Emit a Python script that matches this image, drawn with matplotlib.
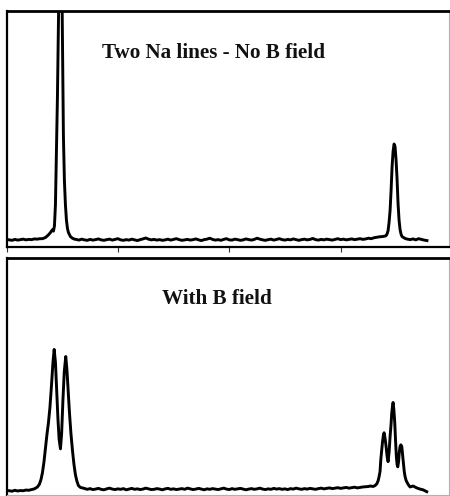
import matplotlib
matplotlib.use("Agg")
import matplotlib.pyplot as plt

# ---------------- data (wavelength in nm, intensity in arbitrary units) ----------------
# Top panel: two Na D lines, no magnetic field
top_left_wl = [588.905, 588.910, 588.915, 588.920, 588.925, 588.930, 588.935, 588.940,
               588.945, 588.950, 588.955, 588.960]
top_left_int = [3.1, 2.9, 3.3, 3.0, 3.2, 3.4, 3.1, 3.3, 3.2, 3.5, 3.4, 3.6]

top_d2_wl = [588.9646, 588.9700, 588.9753, 588.9789, 588.9825, 588.9843, 588.9861, 588.9879,
             588.9897, 588.9915, 588.9933, 588.9951, 588.9969, 588.9987, 589.0004, 589.0022,
             589.0040, 589.0058, 589.0076, 589.0094, 589.0112, 589.0148, 589.0184, 589.0220]
top_d2_int = [3.6, 4.1, 5.2, 6.2, 7.4, 6.8, 9.0, 18, 40, 64, 94, 130, 165, 130, 90, 47,
              28, 18, 11.5, 8.0, 6.2, 4.5, 3.8, 3.4]

top_mid_wl = [589.025, 589.030, 589.035, 589.040, 589.045, 589.050, 589.055, 589.060, 589.065, 589.070,
              589.075, 589.080, 589.085, 589.090, 589.095, 589.100, 589.105, 589.110, 589.115, 589.120,
              589.125, 589.130, 589.135, 589.140, 589.145, 589.150, 589.155, 589.160, 589.165, 589.170,
              589.175, 589.180, 589.185, 589.190, 589.195, 589.200, 589.205, 589.210, 589.215, 589.220,
              589.225, 589.230, 589.235, 589.240, 589.245, 589.250, 589.255, 589.260, 589.265, 589.270,
              589.275, 589.280, 589.285, 589.290, 589.295, 589.300, 589.305, 589.310, 589.315, 589.320,
              589.325, 589.330, 589.335, 589.340, 589.345, 589.350, 589.355, 589.360, 589.365, 589.370,
              589.375, 589.380, 589.385, 589.390, 589.395, 589.400, 589.405, 589.410, 589.415, 589.420,
              589.425, 589.430, 589.435, 589.440, 589.445, 589.450, 589.455, 589.460, 589.465, 589.470,
              589.475, 589.480, 589.485, 589.490, 589.495, 589.500, 589.505, 589.510, 589.515, 589.520,
              589.525, 589.530, 589.535, 589.540, 589.545, 589.550, 589.555, 589.560, 589.565, 589.570,
              589.575]
top_mid_int = [3.3, 3.0, 3.4, 3.1, 2.9, 3.3, 3.0, 3.2, 3.5, 3.1,
               2.9, 3.2, 3.4, 3.0, 3.3, 3.6, 3.1, 2.9, 3.2, 3.0,
               3.4, 3.1, 2.8, 3.2, 3.5, 3.9, 3.4, 3.1, 3.3, 3.0,
               3.2, 2.9, 3.1, 3.4, 3.0, 3.3, 3.6, 3.2, 2.9, 3.1,
               3.3, 3.0, 3.2, 3.5, 3.1, 2.8, 3.2, 3.4, 3.8, 3.3,
               3.0, 3.2, 2.9, 3.3, 3.6, 3.1, 3.0, 3.4, 3.2, 2.9,
               3.1, 3.5, 3.2, 3.0, 3.3, 3.8, 3.4, 3.1, 2.9, 3.2,
               3.4, 3.0, 3.3, 3.6, 3.2, 3.0, 3.3, 3.1, 3.5, 3.2,
               2.9, 3.2, 3.4, 3.1, 3.3, 3.7, 3.2, 3.0, 3.3, 3.1,
               3.4, 3.2, 3.0, 3.3, 3.6, 3.2, 3.4, 3.1, 3.3, 3.5,
               3.2, 3.4, 3.6, 3.3, 3.5, 3.8, 3.6, 4.0, 4.2, 4.4,
               4.5]

top_d1_wl = [589.5798, 589.5816, 589.5834, 589.5852, 589.5870, 589.5888, 589.5906, 589.5924,
             589.5942, 589.5960, 589.5977, 589.5995, 589.6013, 589.6031, 589.6049, 589.6067,
             589.6085, 589.6103, 589.6157]
top_d1_int = [4.7, 4.9, 5.6, 7.0, 10.5, 15.5, 24, 34, 40.5, 43.6, 42.5, 37, 29, 18.5,
              11.5, 7.5, 5.5, 4.5, 3.7]

top_right_wl = [589.620, 589.625, 589.630, 589.635, 589.640, 589.645, 589.650, 589.655]
top_right_int = [3.4, 3.2, 3.5, 3.1, 3.6, 3.3, 3.0, 2.8]

# Bottom panel: with magnetic field (Zeeman splitting)
bot_left_wl = [588.905, 588.910, 588.915, 588.920, 588.925, 588.930, 588.935, 588.940, 588.945]
bot_left_int = [1.8, 1.6, 2.0, 1.7, 1.9, 1.8, 2.1, 2.0, 2.3]

bot_d2_wl = [588.9502, 588.9556, 588.9592, 588.9619, 588.9646, 588.9673, 588.9700, 588.9726,
             588.9753, 588.9780, 588.9807, 588.9834, 588.9856, 588.9879, 588.9902, 588.9924,
             588.9945, 588.9969, 588.9990, 589.0013, 589.0037, 589.0064, 589.0085, 589.0107,
             589.0130, 589.0157, 589.0184, 589.0211, 589.0238, 589.0265, 589.0291, 589.0327,
             589.0381]
bot_d2_int = [2.6, 3.4, 4.6, 6.5, 9.5, 14, 20, 25.5, 30.5, 37, 46, 56, 61.5, 56, 44, 32,
              23.5, 19.5, 26, 40, 52, 58.5, 53, 44, 35, 26, 19, 13, 8.5, 5.8, 4.0, 3.2, 2.9]

bot_mid_wl = [589.045, 589.050, 589.055, 589.060, 589.065, 589.070, 589.075, 589.080, 589.085, 589.090,
              589.095, 589.100, 589.105, 589.110, 589.115, 589.120, 589.125, 589.130, 589.135, 589.140,
              589.145, 589.150, 589.155, 589.160, 589.165, 589.170, 589.175, 589.180, 589.185, 589.190,
              589.195, 589.200, 589.205, 589.210, 589.215, 589.220, 589.225, 589.230, 589.235, 589.240,
              589.245, 589.250, 589.255, 589.260, 589.265, 589.270, 589.275, 589.280, 589.285, 589.290,
              589.295, 589.300, 589.305, 589.310, 589.315, 589.320, 589.325, 589.330, 589.335, 589.340,
              589.345, 589.350, 589.355, 589.360, 589.365, 589.370, 589.375, 589.380, 589.385, 589.390,
              589.395, 589.400, 589.405, 589.410, 589.415, 589.420, 589.425, 589.430, 589.435, 589.440,
              589.445, 589.450, 589.455, 589.460, 589.465, 589.470, 589.475, 589.480, 589.485, 589.490,
              589.495, 589.500, 589.505, 589.510, 589.515, 589.520, 589.525, 589.530, 589.535, 589.540,
              589.545, 589.550]
bot_mid_int = [2.4, 2.7, 2.3, 2.5, 2.8, 2.4, 2.2, 2.6, 2.9, 2.5,
               2.3, 2.6, 2.4, 2.7, 2.2, 2.5, 2.8, 2.4, 2.6, 2.3,
               2.5, 2.9, 2.6, 2.3, 2.4, 2.7, 2.5, 2.2, 2.6, 2.8,
               2.4, 2.6, 2.3, 2.5, 2.7, 2.4, 2.9, 2.6, 2.3, 2.5,
               2.8, 2.5, 2.2, 2.6, 2.4, 2.7, 2.5, 2.3, 2.6, 2.9,
               2.5, 2.3, 2.7, 2.4, 2.6, 2.8, 2.5, 2.2, 2.5, 2.7,
               2.4, 2.6, 2.9, 2.5, 2.3, 2.6, 2.4, 2.8, 2.5, 2.7,
               2.4, 2.6, 2.3, 2.7, 2.5, 2.9, 2.6, 2.4, 2.7, 2.5,
               2.8, 2.6, 2.4, 2.7, 2.9, 2.6, 2.8, 3.0, 2.7, 2.9,
               3.1, 2.8, 3.0, 3.2, 2.9, 3.1, 3.3, 3.0, 3.2, 3.4,
               3.5, 3.6]

bot_d1_wl = [589.5529, 589.5583, 589.5619, 589.5649, 589.5673, 589.5691, 589.5708, 589.5721,
             589.5735, 589.5750, 589.5766, 589.5780, 589.5798, 589.5816, 589.5834, 589.5852,
             589.5870, 589.5888, 589.5906, 589.5918, 589.5931, 589.5942, 589.5956, 589.5972,
             589.5986, 589.6001, 589.6013, 589.6026, 589.6040, 589.6053, 589.6067, 589.6081,
             589.6098, 589.6112, 589.6126, 589.6142, 589.6157, 589.6175, 589.6198, 589.6220,
             589.6247, 589.6300, 589.6367, 589.6426, 589.6480, 589.6546]
bot_d1_int = [3.8, 3.6, 4.0, 4.7, 6.0, 7.8, 10, 14.8, 18.5, 22, 25, 26.3, 24, 20.5, 16.5,
              14.1, 18, 24.7, 30, 34.7, 37.5, 39.1, 36, 30.5, 23, 16.2, 13, 11.9, 14, 18,
              20.5, 21.2, 20.5, 17, 13.6, 10, 7.8, 6.2, 5.1, 4.2, 3.4, 3.8, 3.0, 2.5, 2.2, 1.4]

tick_positions = [588.9, 589.1, 589.3, 589.5]
top_title = "Two Na lines - No B field"
bottom_title = "With B field"

top_wl = top_left_wl + top_d2_wl + top_mid_wl + top_d1_wl + top_right_wl
top_int = top_left_int + top_d2_int + top_mid_int + top_d1_int + top_right_int
bot_wl = bot_left_wl + bot_d2_wl + bot_mid_wl + bot_d1_wl
bot_int = bot_left_int + bot_d2_int + bot_mid_int + bot_d1_int

# ---------------- figure ----------------
plt.rcParams['font.family'] = ['Liberation Serif', 'DejaVu Serif']
fig = plt.figure(figsize=(4.5, 4.96), dpi=100)
fig.patch.set_facecolor('white')

left = 6.5 / 450
width = 442 / 450
ax1 = fig.add_axes([left, 0.5016, width, 0.4772])
ax2 = fig.add_axes([left, 0.002, width, 0.4772])

xlim = (588.9, 589.6937)

for ax, wl, inten, title, tx, ty in [
        (ax1, top_wl, top_int, top_title, 0.4689, 0.798),
        (ax2, bot_wl, bot_int, bottom_title, 0.4757, 0.807)]:
    ax.plot(wl, inten, color='black', lw=2.1, solid_joinstyle='round')
    ax.set_xlim(*xlim)
    ax.set_ylim(0, 100)
    ax.set_yticks([])
    ax.text(tx, ty, title, transform=ax.transAxes, ha='center', va='baseline',
            fontsize=15.2, fontweight='bold', color='#111111')
    ax.spines['left'].set_linewidth(1.6)
    ax.spines['left'].set_color('black')
    ax.spines['top'].set_linewidth(2.0)
    ax.spines['top'].set_color('black')
    ax.spines['right'].set_linewidth(0.8)
    ax.spines['right'].set_color('#b0b0b0')

ax1.spines['bottom'].set_linewidth(1.6)
ax1.spines['bottom'].set_color('black')
ax1.set_xticks(tick_positions)
ax1.set_xticklabels([])
ax1.tick_params(axis='x', direction='out', length=3.6, width=0.8, color='#333333')

ax2.spines['bottom'].set_linewidth(0.8)
ax2.spines['bottom'].set_color('#b0b0b0')
ax2.set_xticks([])

fig.savefig('out.png', dpi=100, facecolor='white')
